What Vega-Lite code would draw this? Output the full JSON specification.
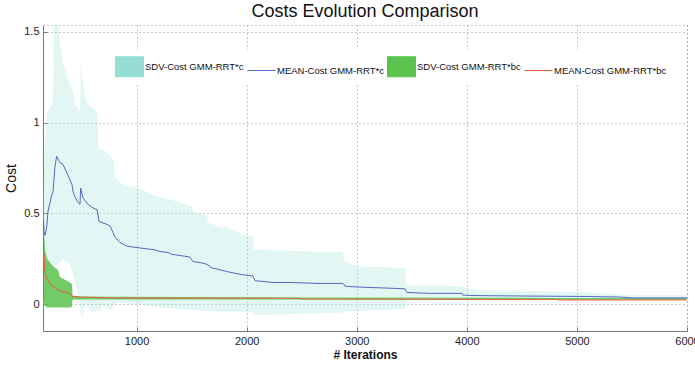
{
  "$schema": "https://vega.github.io/schema/vega-lite/v6.json",
  "width": 644,
  "height": 306,
  "autosize": {"type": "none"},
  "padding": {"left": 43, "top": 25, "right": 8, "bottom": 34},
  "title": {"text": "Costs Evolution Comparison", "fontSize": 18, "fontWeight": "normal", "color": "#111", "offset": 4, "anchor": "middle"},
  "config": {
    "font": "Liberation Sans",
    "view": {"stroke": "#999", "strokeDash": [1, 3]},
    "axis": {
      "domainColor": "#777", "tickColor": "#777", "gridColor": "#999", "gridDash": [1, 3], "gridOpacity": 1,
      "labelFontSize": 11, "labelColor": "#222", "titleColor": "#111", "tickSize": -4, "labelPadding": 8
    }
  },
  "datasets": {
    "bands": [
      {"s": "SDV-Cost GMM-RRT*c", "v": 150, "lo": 0.15, "hi": 0.55},
      {"s": "SDV-Cost GMM-RRT*c", "v": 168, "lo": 0.17, "hi": 0.9},
      {"s": "SDV-Cost GMM-RRT*c", "v": 186, "lo": 0.19, "hi": 1.05},
      {"s": "SDV-Cost GMM-RRT*c", "v": 214, "lo": 0.2, "hi": 1.08},
      {"s": "SDV-Cost GMM-RRT*c", "v": 238, "lo": 0.21, "hi": 1.1},
      {"s": "SDV-Cost GMM-RRT*c", "v": 250, "lo": 0.21, "hi": 1.6},
      {"s": "SDV-Cost GMM-RRT*c", "v": 282, "lo": 0.22, "hi": 1.6},
      {"s": "SDV-Cost GMM-RRT*c", "v": 300, "lo": 0.23, "hi": 1.45},
      {"s": "SDV-Cost GMM-RRT*c", "v": 332, "lo": 0.25, "hi": 1.33},
      {"s": "SDV-Cost GMM-RRT*c", "v": 350, "lo": 0.24, "hi": 1.29},
      {"s": "SDV-Cost GMM-RRT*c", "v": 368, "lo": 0.23, "hi": 1.25},
      {"s": "SDV-Cost GMM-RRT*c", "v": 395, "lo": 0.22, "hi": 1.21},
      {"s": "SDV-Cost GMM-RRT*c", "v": 423, "lo": 0.17, "hi": 1.17},
      {"s": "SDV-Cost GMM-RRT*c", "v": 441, "lo": 0.12, "hi": 1.1},
      {"s": "SDV-Cost GMM-RRT*c", "v": 459, "lo": 0.08, "hi": 1.08},
      {"s": "SDV-Cost GMM-RRT*c", "v": 477, "lo": 0.04, "hi": 1.07},
      {"s": "SDV-Cost GMM-RRT*c", "v": 486, "lo": 0.0, "hi": 1.06},
      {"s": "SDV-Cost GMM-RRT*c", "v": 492, "lo": -0.05, "hi": 1.33},
      {"s": "SDV-Cost GMM-RRT*c", "v": 504, "lo": -0.08, "hi": 1.25},
      {"s": "SDV-Cost GMM-RRT*c", "v": 513, "lo": -0.05, "hi": 1.21},
      {"s": "SDV-Cost GMM-RRT*c", "v": 522, "lo": -0.02, "hi": 1.18},
      {"s": "SDV-Cost GMM-RRT*c", "v": 532, "lo": 0.0, "hi": 1.14},
      {"s": "SDV-Cost GMM-RRT*c", "v": 550, "lo": 0.0, "hi": 1.11},
      {"s": "SDV-Cost GMM-RRT*c", "v": 559, "lo": -0.02, "hi": 1.1},
      {"s": "SDV-Cost GMM-RRT*c", "v": 577, "lo": -0.04, "hi": 1.09},
      {"s": "SDV-Cost GMM-RRT*c", "v": 604, "lo": -0.04, "hi": 1.08},
      {"s": "SDV-Cost GMM-RRT*c", "v": 645, "lo": -0.04, "hi": 1.06},
      {"s": "SDV-Cost GMM-RRT*c", "v": 650, "lo": -0.03, "hi": 0.86},
      {"s": "SDV-Cost GMM-RRT*c", "v": 668, "lo": -0.04, "hi": 0.86},
      {"s": "SDV-Cost GMM-RRT*c", "v": 686, "lo": 0.0, "hi": 0.85},
      {"s": "SDV-Cost GMM-RRT*c", "v": 713, "lo": -0.02, "hi": 0.84},
      {"s": "SDV-Cost GMM-RRT*c", "v": 759, "lo": -0.03, "hi": 0.82},
      {"s": "SDV-Cost GMM-RRT*c", "v": 777, "lo": -0.02, "hi": 0.8},
      {"s": "SDV-Cost GMM-RRT*c", "v": 795, "lo": -0.01, "hi": 0.78},
      {"s": "SDV-Cost GMM-RRT*c", "v": 804, "lo": 0.0, "hi": 0.7},
      {"s": "SDV-Cost GMM-RRT*c", "v": 849, "lo": 0.01, "hi": 0.67},
      {"s": "SDV-Cost GMM-RRT*c", "v": 913, "lo": 0.005, "hi": 0.65},
      {"s": "SDV-Cost GMM-RRT*c", "v": 1004, "lo": 0.0, "hi": 0.64},
      {"s": "SDV-Cost GMM-RRT*c", "v": 1095, "lo": -0.008, "hi": 0.62},
      {"s": "SDV-Cost GMM-RRT*c", "v": 1149, "lo": -0.012, "hi": 0.6},
      {"s": "SDV-Cost GMM-RRT*c", "v": 1213, "lo": -0.017, "hi": 0.59},
      {"s": "SDV-Cost GMM-RRT*c", "v": 1285, "lo": -0.02, "hi": 0.58},
      {"s": "SDV-Cost GMM-RRT*c", "v": 1367, "lo": -0.027, "hi": 0.565},
      {"s": "SDV-Cost GMM-RRT*c", "v": 1503, "lo": -0.03, "hi": 0.54},
      {"s": "SDV-Cost GMM-RRT*c", "v": 1513, "lo": -0.032, "hi": 0.505},
      {"s": "SDV-Cost GMM-RRT*c", "v": 1640, "lo": -0.037, "hi": 0.49},
      {"s": "SDV-Cost GMM-RRT*c", "v": 1649, "lo": -0.037, "hi": 0.45},
      {"s": "SDV-Cost GMM-RRT*c", "v": 1740, "lo": -0.04, "hi": 0.43},
      {"s": "SDV-Cost GMM-RRT*c", "v": 1821, "lo": -0.04, "hi": 0.42},
      {"s": "SDV-Cost GMM-RRT*c", "v": 1958, "lo": -0.04, "hi": 0.385},
      {"s": "SDV-Cost GMM-RRT*c", "v": 2058, "lo": -0.045, "hi": 0.375},
      {"s": "SDV-Cost GMM-RRT*c", "v": 2067, "lo": -0.06, "hi": 0.3},
      {"s": "SDV-Cost GMM-RRT*c", "v": 2875, "lo": -0.045, "hi": 0.285},
      {"s": "SDV-Cost GMM-RRT*c", "v": 2884, "lo": -0.04, "hi": 0.24},
      {"s": "SDV-Cost GMM-RRT*c", "v": 3002, "lo": -0.035, "hi": 0.21},
      {"s": "SDV-Cost GMM-RRT*c", "v": 3438, "lo": -0.027, "hi": 0.2},
      {"s": "SDV-Cost GMM-RRT*c", "v": 3447, "lo": 0.025, "hi": 0.105},
      {"s": "SDV-Cost GMM-RRT*c", "v": 3956, "lo": 0.025, "hi": 0.1},
      {"s": "SDV-Cost GMM-RRT*c", "v": 4001, "lo": 0.025, "hi": 0.09},
      {"s": "SDV-Cost GMM-RRT*c", "v": 4092, "lo": 0.025, "hi": 0.077},
      {"s": "SDV-Cost GMM-RRT*c", "v": 4692, "lo": 0.025, "hi": 0.072},
      {"s": "SDV-Cost GMM-RRT*c", "v": 5055, "lo": 0.025, "hi": 0.066},
      {"s": "SDV-Cost GMM-RRT*c", "v": 5364, "lo": 0.026, "hi": 0.055},
      {"s": "SDV-Cost GMM-RRT*c", "v": 5500, "lo": 0.027, "hi": 0.05},
      {"s": "SDV-Cost GMM-RRT*c", "v": 6000, "lo": 0.027, "hi": 0.05},
      {"s": "SDV-Cost GMM-RRT*bc", "v": 150, "lo": 0.0, "hi": 0.47},
      {"s": "SDV-Cost GMM-RRT*bc", "v": 159, "lo": 0.0, "hi": 0.4},
      {"s": "SDV-Cost GMM-RRT*bc", "v": 168, "lo": -0.01, "hi": 0.3},
      {"s": "SDV-Cost GMM-RRT*bc", "v": 186, "lo": -0.017, "hi": 0.25},
      {"s": "SDV-Cost GMM-RRT*bc", "v": 214, "lo": -0.017, "hi": 0.23},
      {"s": "SDV-Cost GMM-RRT*bc", "v": 241, "lo": -0.017, "hi": 0.21},
      {"s": "SDV-Cost GMM-RRT*bc", "v": 286, "lo": -0.017, "hi": 0.19},
      {"s": "SDV-Cost GMM-RRT*bc", "v": 304, "lo": -0.017, "hi": 0.15},
      {"s": "SDV-Cost GMM-RRT*bc", "v": 332, "lo": -0.017, "hi": 0.14},
      {"s": "SDV-Cost GMM-RRT*bc", "v": 395, "lo": -0.017, "hi": 0.12},
      {"s": "SDV-Cost GMM-RRT*bc", "v": 413, "lo": -0.012, "hi": 0.11},
      {"s": "SDV-Cost GMM-RRT*bc", "v": 418, "lo": 0.025, "hi": 0.045},
      {"s": "SDV-Cost GMM-RRT*bc", "v": 500, "lo": 0.026, "hi": 0.043},
      {"s": "SDV-Cost GMM-RRT*bc", "v": 759, "lo": 0.027, "hi": 0.042},
      {"s": "SDV-Cost GMM-RRT*bc", "v": 2485, "lo": 0.026, "hi": 0.038},
      {"s": "SDV-Cost GMM-RRT*bc", "v": 4820, "lo": 0.025, "hi": 0.035},
      {"s": "SDV-Cost GMM-RRT*bc", "v": 6000, "lo": 0.025, "hi": 0.034}
    ],
    "means": [
      {"s": "MEAN-Cost GMM-RRT*c", "v": 150, "y": 0.02},
      {"s": "MEAN-Cost GMM-RRT*c", "v": 153, "y": 0.47},
      {"s": "MEAN-Cost GMM-RRT*c", "v": 159, "y": 0.4},
      {"s": "MEAN-Cost GMM-RRT*c", "v": 170, "y": 0.38},
      {"s": "MEAN-Cost GMM-RRT*c", "v": 184, "y": 0.43},
      {"s": "MEAN-Cost GMM-RRT*c", "v": 195, "y": 0.51},
      {"s": "MEAN-Cost GMM-RRT*c", "v": 229, "y": 0.6},
      {"s": "MEAN-Cost GMM-RRT*c", "v": 241, "y": 0.62},
      {"s": "MEAN-Cost GMM-RRT*c", "v": 259, "y": 0.76},
      {"s": "MEAN-Cost GMM-RRT*c", "v": 274, "y": 0.815},
      {"s": "MEAN-Cost GMM-RRT*c", "v": 286, "y": 0.8},
      {"s": "MEAN-Cost GMM-RRT*c", "v": 304, "y": 0.78},
      {"s": "MEAN-Cost GMM-RRT*c", "v": 332, "y": 0.77},
      {"s": "MEAN-Cost GMM-RRT*c", "v": 377, "y": 0.71},
      {"s": "MEAN-Cost GMM-RRT*c", "v": 413, "y": 0.66},
      {"s": "MEAN-Cost GMM-RRT*c", "v": 423, "y": 0.62},
      {"s": "MEAN-Cost GMM-RRT*c", "v": 441, "y": 0.59},
      {"s": "MEAN-Cost GMM-RRT*c", "v": 468, "y": 0.56},
      {"s": "MEAN-Cost GMM-RRT*c", "v": 486, "y": 0.55},
      {"s": "MEAN-Cost GMM-RRT*c", "v": 492, "y": 0.64},
      {"s": "MEAN-Cost GMM-RRT*c", "v": 511, "y": 0.59},
      {"s": "MEAN-Cost GMM-RRT*c", "v": 532, "y": 0.57},
      {"s": "MEAN-Cost GMM-RRT*c", "v": 559, "y": 0.55},
      {"s": "MEAN-Cost GMM-RRT*c", "v": 604, "y": 0.53},
      {"s": "MEAN-Cost GMM-RRT*c", "v": 641, "y": 0.52},
      {"s": "MEAN-Cost GMM-RRT*c", "v": 650, "y": 0.49},
      {"s": "MEAN-Cost GMM-RRT*c", "v": 659, "y": 0.455},
      {"s": "MEAN-Cost GMM-RRT*c", "v": 731, "y": 0.44},
      {"s": "MEAN-Cost GMM-RRT*c", "v": 759, "y": 0.43},
      {"s": "MEAN-Cost GMM-RRT*c", "v": 786, "y": 0.395},
      {"s": "MEAN-Cost GMM-RRT*c", "v": 804, "y": 0.37},
      {"s": "MEAN-Cost GMM-RRT*c", "v": 849, "y": 0.34},
      {"s": "MEAN-Cost GMM-RRT*c", "v": 913, "y": 0.32},
      {"s": "MEAN-Cost GMM-RRT*c", "v": 968, "y": 0.315},
      {"s": "MEAN-Cost GMM-RRT*c", "v": 1031, "y": 0.31},
      {"s": "MEAN-Cost GMM-RRT*c", "v": 1095, "y": 0.305},
      {"s": "MEAN-Cost GMM-RRT*c", "v": 1167, "y": 0.3},
      {"s": "MEAN-Cost GMM-RRT*c", "v": 1213, "y": 0.29},
      {"s": "MEAN-Cost GMM-RRT*c", "v": 1285, "y": 0.285},
      {"s": "MEAN-Cost GMM-RRT*c", "v": 1322, "y": 0.275},
      {"s": "MEAN-Cost GMM-RRT*c", "v": 1485, "y": 0.26},
      {"s": "MEAN-Cost GMM-RRT*c", "v": 1513, "y": 0.235},
      {"s": "MEAN-Cost GMM-RRT*c", "v": 1576, "y": 0.23},
      {"s": "MEAN-Cost GMM-RRT*c", "v": 1640, "y": 0.22},
      {"s": "MEAN-Cost GMM-RRT*c", "v": 1685, "y": 0.2},
      {"s": "MEAN-Cost GMM-RRT*c", "v": 1758, "y": 0.19},
      {"s": "MEAN-Cost GMM-RRT*c", "v": 1821, "y": 0.18},
      {"s": "MEAN-Cost GMM-RRT*c", "v": 1940, "y": 0.165},
      {"s": "MEAN-Cost GMM-RRT*c", "v": 2058, "y": 0.155},
      {"s": "MEAN-Cost GMM-RRT*c", "v": 2076, "y": 0.13},
      {"s": "MEAN-Cost GMM-RRT*c", "v": 2239, "y": 0.12},
      {"s": "MEAN-Cost GMM-RRT*c", "v": 2394, "y": 0.12},
      {"s": "MEAN-Cost GMM-RRT*c", "v": 2639, "y": 0.115},
      {"s": "MEAN-Cost GMM-RRT*c", "v": 2875, "y": 0.115},
      {"s": "MEAN-Cost GMM-RRT*c", "v": 2893, "y": 0.1},
      {"s": "MEAN-Cost GMM-RRT*c", "v": 3002, "y": 0.095},
      {"s": "MEAN-Cost GMM-RRT*c", "v": 3239, "y": 0.09},
      {"s": "MEAN-Cost GMM-RRT*c", "v": 3438, "y": 0.085},
      {"s": "MEAN-Cost GMM-RRT*c", "v": 3457, "y": 0.065},
      {"s": "MEAN-Cost GMM-RRT*c", "v": 3665, "y": 0.06},
      {"s": "MEAN-Cost GMM-RRT*c", "v": 3956, "y": 0.06},
      {"s": "MEAN-Cost GMM-RRT*c", "v": 3965, "y": 0.05},
      {"s": "MEAN-Cost GMM-RRT*c", "v": 4074, "y": 0.048},
      {"s": "MEAN-Cost GMM-RRT*c", "v": 4619, "y": 0.045},
      {"s": "MEAN-Cost GMM-RRT*c", "v": 5055, "y": 0.043},
      {"s": "MEAN-Cost GMM-RRT*c", "v": 5391, "y": 0.04},
      {"s": "MEAN-Cost GMM-RRT*c", "v": 5500, "y": 0.035},
      {"s": "MEAN-Cost GMM-RRT*c", "v": 6000, "y": 0.035},
      {"s": "MEAN-Cost GMM-RRT*bc", "v": 150, "y": 0.3},
      {"s": "MEAN-Cost GMM-RRT*bc", "v": 159, "y": 0.27},
      {"s": "MEAN-Cost GMM-RRT*bc", "v": 168, "y": 0.175},
      {"s": "MEAN-Cost GMM-RRT*bc", "v": 186, "y": 0.14},
      {"s": "MEAN-Cost GMM-RRT*bc", "v": 214, "y": 0.11},
      {"s": "MEAN-Cost GMM-RRT*bc", "v": 241, "y": 0.1},
      {"s": "MEAN-Cost GMM-RRT*bc", "v": 286, "y": 0.08},
      {"s": "MEAN-Cost GMM-RRT*bc", "v": 323, "y": 0.07},
      {"s": "MEAN-Cost GMM-RRT*bc", "v": 368, "y": 0.065},
      {"s": "MEAN-Cost GMM-RRT*bc", "v": 404, "y": 0.055},
      {"s": "MEAN-Cost GMM-RRT*bc", "v": 413, "y": 0.045},
      {"s": "MEAN-Cost GMM-RRT*bc", "v": 486, "y": 0.04},
      {"s": "MEAN-Cost GMM-RRT*bc", "v": 759, "y": 0.035},
      {"s": "MEAN-Cost GMM-RRT*bc", "v": 2485, "y": 0.033},
      {"s": "MEAN-Cost GMM-RRT*bc", "v": 2494, "y": 0.029},
      {"s": "MEAN-Cost GMM-RRT*bc", "v": 4820, "y": 0.027},
      {"s": "MEAN-Cost GMM-RRT*bc", "v": 4829, "y": 0.024},
      {"s": "MEAN-Cost GMM-RRT*bc", "v": 6000, "y": 0.024}
    ]
  },
  "encoding": {
    "x": {
      "field": "v", "type": "quantitative",
      "scale": {"domain": [150, 6000], "nice": false, "zero": false},
      "axis": {"title": "# Iterations", "values": [1000, 2000, 3000, 4000, 5000, 6000], "format": "d", "labelFlush": false, "titleFontWeight": "bold", "titleFontSize": 12, "titlePadding": 3}
    },
    "color": {
      "field": "s", "type": "nominal",
      "scale": {
        "domain": ["SDV-Cost GMM-RRT*c", "MEAN-Cost GMM-RRT*c", "SDV-Cost GMM-RRT*bc", "MEAN-Cost GMM-RRT*bc"],
        "range": ["#96ddd5", "#5468c4", "#5bc24e", "#e8603a"]
      },
      "legend": {
        "title": null, "orient": "none", "legendX": 70, "legendY": 25, "direction": "horizontal", "columns": 4,
        "fillColor": "white", "padding": 6, "columnPadding": 1, "labelFontSize": 9.5, "labelOffset": 5, "labelColor": "#111",
        "symbolSize": 400,
        "encode": {
          "symbols": {
            "update": {
              "shape": {"signal": "indexof(datum.value, 'MEAN') === 0 ? 'M-1.4,0H1.4' : 'M-1.4,-1H1.4V1H-1.4Z'"},
              "fill": {"signal": "datum.value === 'SDV-Cost GMM-RRT*c' ? '#96ddd5' : datum.value === 'SDV-Cost GMM-RRT*bc' ? '#5bc24e' : 'transparent'"},
              "stroke": {"signal": "datum.value === 'SDV-Cost GMM-RRT*c' ? '#e07a7a' : datum.value === 'SDV-Cost GMM-RRT*bc' ? '#9b7fd0' : datum.value === 'MEAN-Cost GMM-RRT*c' ? '#8c9ae0' : '#f08070'"},
              "strokeWidth": {"value": 1},
              "opacity": {"value": 1},
              "fillOpacity": {"value": 1},
              "strokeOpacity": {"value": 1}
            }
          }
        }
      }
    }
  },
  "layer": [
    {
      "data": {"name": "bands"},
      "transform": [{"filter": "datum.s === 'SDV-Cost GMM-RRT*c'"}],
      "mark": {"type": "area", "opacity": 0.28, "clip": true},
      "encoding": {
        "y": {"field": "lo", "type": "quantitative", "scale": {"domain": [-0.147, 1.537], "nice": false, "zero": false},
              "axis": {"title": "Cost", "values": [0, 0.5, 1, 1.5], "format": "~g", "titleFontWeight": "normal", "titleFontSize": 14, "titlePadding": 5}},
        "y2": {"field": "hi"}
      }
    },
    {
      "data": {"name": "bands"},
      "transform": [{"filter": "datum.s === 'SDV-Cost GMM-RRT*bc'"}],
      "mark": {"type": "area", "opacity": 0.85, "clip": true},
      "encoding": {
        "y": {"field": "lo", "type": "quantitative"},
        "y2": {"field": "hi"}
      }
    },
    {
      "data": {"name": "means"},
      "transform": [{"filter": "datum.s === 'MEAN-Cost GMM-RRT*c'"}],
      "mark": {"type": "line", "strokeWidth": 1, "clip": true},
      "encoding": {"y": {"field": "y", "type": "quantitative"}}
    },
    {
      "data": {"name": "means"},
      "transform": [{"filter": "datum.s === 'MEAN-Cost GMM-RRT*bc'"}],
      "mark": {"type": "line", "strokeWidth": 1, "clip": true},
      "encoding": {"y": {"field": "y", "type": "quantitative"}}
    }
  ]
}
